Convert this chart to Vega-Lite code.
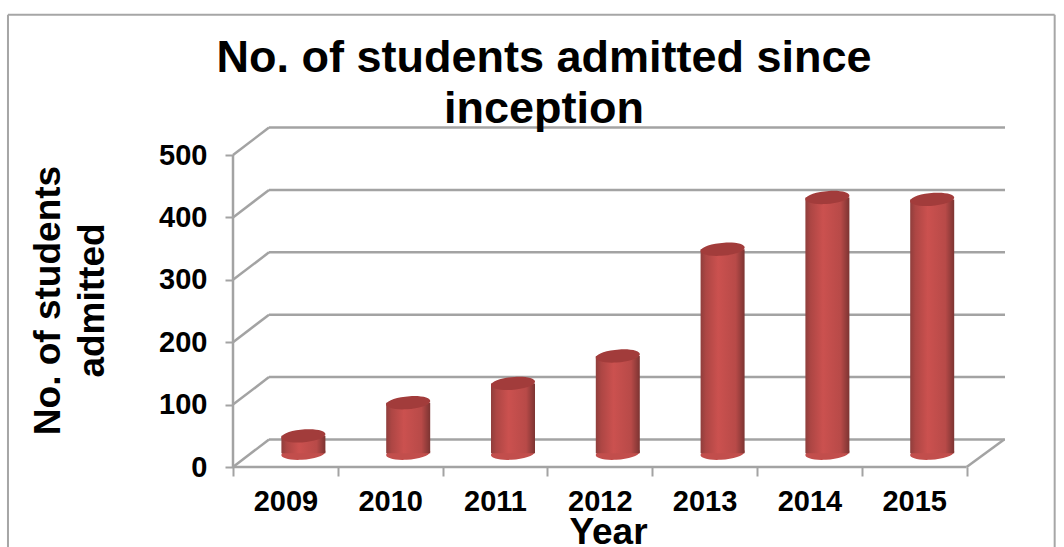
{
"$schema":"https://vega.github.io/schema/vega-lite/v6.json",
"width":772,"height":340,
"autosize":{"type":"none"},
"padding":{"left":233,"top":127,"right":59,"bottom":80},
"background":"white",
"config":{"view":{"stroke":null},"font":"Liberation Sans"},
"title":{"text":["No. of students admitted since","inception"],"fontSize":45,"fontWeight":"bold","font":"Liberation Sans","color":"black","anchor":"middle","dx":-75,"offset":-118,"lineHeight":51},
"datasets":{
"ticks":[{"v":0},{"v":100},{"v":200},{"v":300},{"v":400},{"v":500}],
"admitted":[{"year":"2009","students":28},{"year":"2010","students":81},{"year":"2011","students":112},{"year":"2012","students":156},{"year":"2013","students":327},{"year":"2014","students":410},{"year":"2015","students":407}]
},
"resolve":{"scale":{"x":"independent"},"axis":{"x":"independent"}},
"layer":[
{"data":{"name":"ticks"},"mark":{"type":"rule","color":"#a3a3a3","strokeWidth":2.5,"yOffset":-27.5},
 "encoding":{"x":{"datum":0.3435,"type":"quantitative","scale":{"domain":[0,7.366],"range":[0,772],"nice":false,"zero":false},"axis":null},"x2":{"datum":7.366},
 "y":{"field":"v","type":"quantitative","scale":{"domain":[0,545],"nice":false},
  "axis":{"values":[0,100,200,300,400,500],"domain":false,"grid":false,"tickSize":8,"tickColor":"#a3a3a3","tickWidth":2,"labelFontSize":29,"labelFontWeight":"bold","labelColor":"black","labelPadding":18,"title":["No. of students","admitted"],"titleFontSize":37,"titleFontWeight":"bold","titleColor":"black","titleLineHeight":44,"titleX":-166,"titleY":173,"titleAnchor":"middle"}}}},
{"data":{"name":"ticks"},"mark":{"type":"rule","color":"#a3a3a3","strokeWidth":2.5,"y2Offset":-27.5},
 "encoding":{"x":{"datum":0,"type":"quantitative","scale":{"domain":[0,7.366],"range":[0,772],"nice":false,"zero":false},"axis":null},"x2":{"datum":0.3435},
 "y":{"field":"v","type":"quantitative"},"y2":{"field":"v"}}},
{"data":{"name":"ticks"},"transform":[{"filter":"datum.v===0"}],"mark":{"type":"rule","color":"#a3a3a3","strokeWidth":2.5,"y2Offset":-27.5},
 "encoding":{"x":{"datum":7,"type":"quantitative","scale":{"domain":[0,7.366],"range":[0,772],"nice":false,"zero":false},"axis":null},"x2":{"datum":7.358},
 "y":{"field":"v","type":"quantitative"},"y2":{"field":"v"}}},
{"data":{"name":"ticks"},"transform":[{"filter":"datum.v===0"}],"mark":{"type":"rule","color":"#a3a3a3","strokeWidth":2.5},
 "encoding":{"x":{"datum":0,"type":"quantitative","scale":{"domain":[0,7.366],"range":[0,772],"nice":false,"zero":false},"axis":null},"x2":{"datum":7},
 "y":{"field":"v","type":"quantitative"}}},
{"data":{"name":"ticks"},"transform":[{"filter":"datum.v===0"}],"mark":{"type":"rule","color":"#a3a3a3","strokeWidth":2.5},
 "encoding":{"x":{"datum":0,"type":"quantitative","scale":{"domain":[0,7.366],"range":[0,772],"nice":false,"zero":false},"axis":null},
 "y":{"datum":0,"type":"quantitative"},"y2":{"datum":500}}},
{"data":{"name":"ticks"},"transform":[{"filter":"datum.v===0"}],"mark":{"type":"rule","color":"#a6a6a6","strokeWidth":2},
 "encoding":{"x":{"datum":-2.147,"type":"quantitative","scale":{"domain":[0,7.366],"range":[0,772],"nice":false,"zero":false},"axis":null},
 "y":{"datum":725,"type":"quantitative"},"y2":{"datum":-135}}},
{"data":{"name":"ticks"},"transform":[{"filter":"datum.v===0"}],"mark":{"type":"rule","color":"#a6a6a6","strokeWidth":2},
 "encoding":{"x":{"datum":7.84,"type":"quantitative","scale":{"domain":[0,7.366],"range":[0,772],"nice":false,"zero":false},"axis":null},
 "y":{"datum":725,"type":"quantitative"},"y2":{"datum":-135}}},
{"data":{"name":"ticks"},"transform":[{"filter":"datum.v===0"}],"mark":{"type":"rule","color":"#a6a6a6","strokeWidth":2},
 "encoding":{"x":{"datum":-2.147,"type":"quantitative","scale":{"domain":[0,7.366],"range":[0,772],"nice":false,"zero":false},"axis":null},"x2":{"datum":7.84},
 "y":{"datum":725,"type":"quantitative"}}},
{"data":{"name":"admitted"},"mark":{"type":"point","filled":true,"opacity":1,"size":1936,"shape":"M-1,0.06 A1,0.29 -5 1 1 1,-0.06 A1,0.29 -5 1 1 -1,0.06 Z","fill":"#c24e4c","xOffset":18,"yOffset":-13.7},
 "encoding":{"x":{"field":"year","type":"ordinal","scale":{"range":[0,733.6],"paddingInner":0,"paddingOuter":0},
   "axis":{"domain":false,"grid":false,"tickBand":"extent","tickSize":9,"tickColor":"#a3a3a3","tickWidth":2,"labelAngle":0,"labelFontSize":29,"labelFontWeight":"bold","labelColor":"black","labelPadding":11,"title":"Year","titleFontSize":37,"titleFontWeight":"bold","titleColor":"black","titleX":375,"titleY":76,"titleBaseline":"alphabetic"}},
  "y":{"datum":0,"type":"quantitative"}}},
{"data":{"name":"admitted"},"mark":{"type":"bar","width":44,"xOffset":18,"yOffset":-13.7,"y2Offset":-13.7,"fill":{"gradient":"linear","x1":0,"y1":0,"x2":1,"y2":0,"stops":[{"offset":0,"color":"#8f3e3c"},{"offset":0.12,"color":"#ad4644"},{"offset":0.4,"color":"#cb514f"},{"offset":0.8,"color":"#b84a48"},{"offset":1,"color":"#7c3432"}]}},
 "encoding":{"x":{"field":"year","type":"ordinal","scale":{"range":[0,733.6],"paddingInner":0,"paddingOuter":0},"axis":null},
  "y":{"field":"students","type":"quantitative"},"y2":{"datum":0}}},
{"data":{"name":"admitted"},"mark":{"type":"point","filled":true,"opacity":1,"size":1936,"shape":"M-1,0.06 A1,0.29 -5 1 1 1,-0.06 A1,0.29 -5 1 1 -1,0.06 Z","fill":"#a23c3b","xOffset":18,"yOffset":-13.7},
 "encoding":{"x":{"field":"year","type":"ordinal","scale":{"range":[0,733.6],"paddingInner":0,"paddingOuter":0},"axis":null},
  "y":{"field":"students","type":"quantitative"}}}
]
}
